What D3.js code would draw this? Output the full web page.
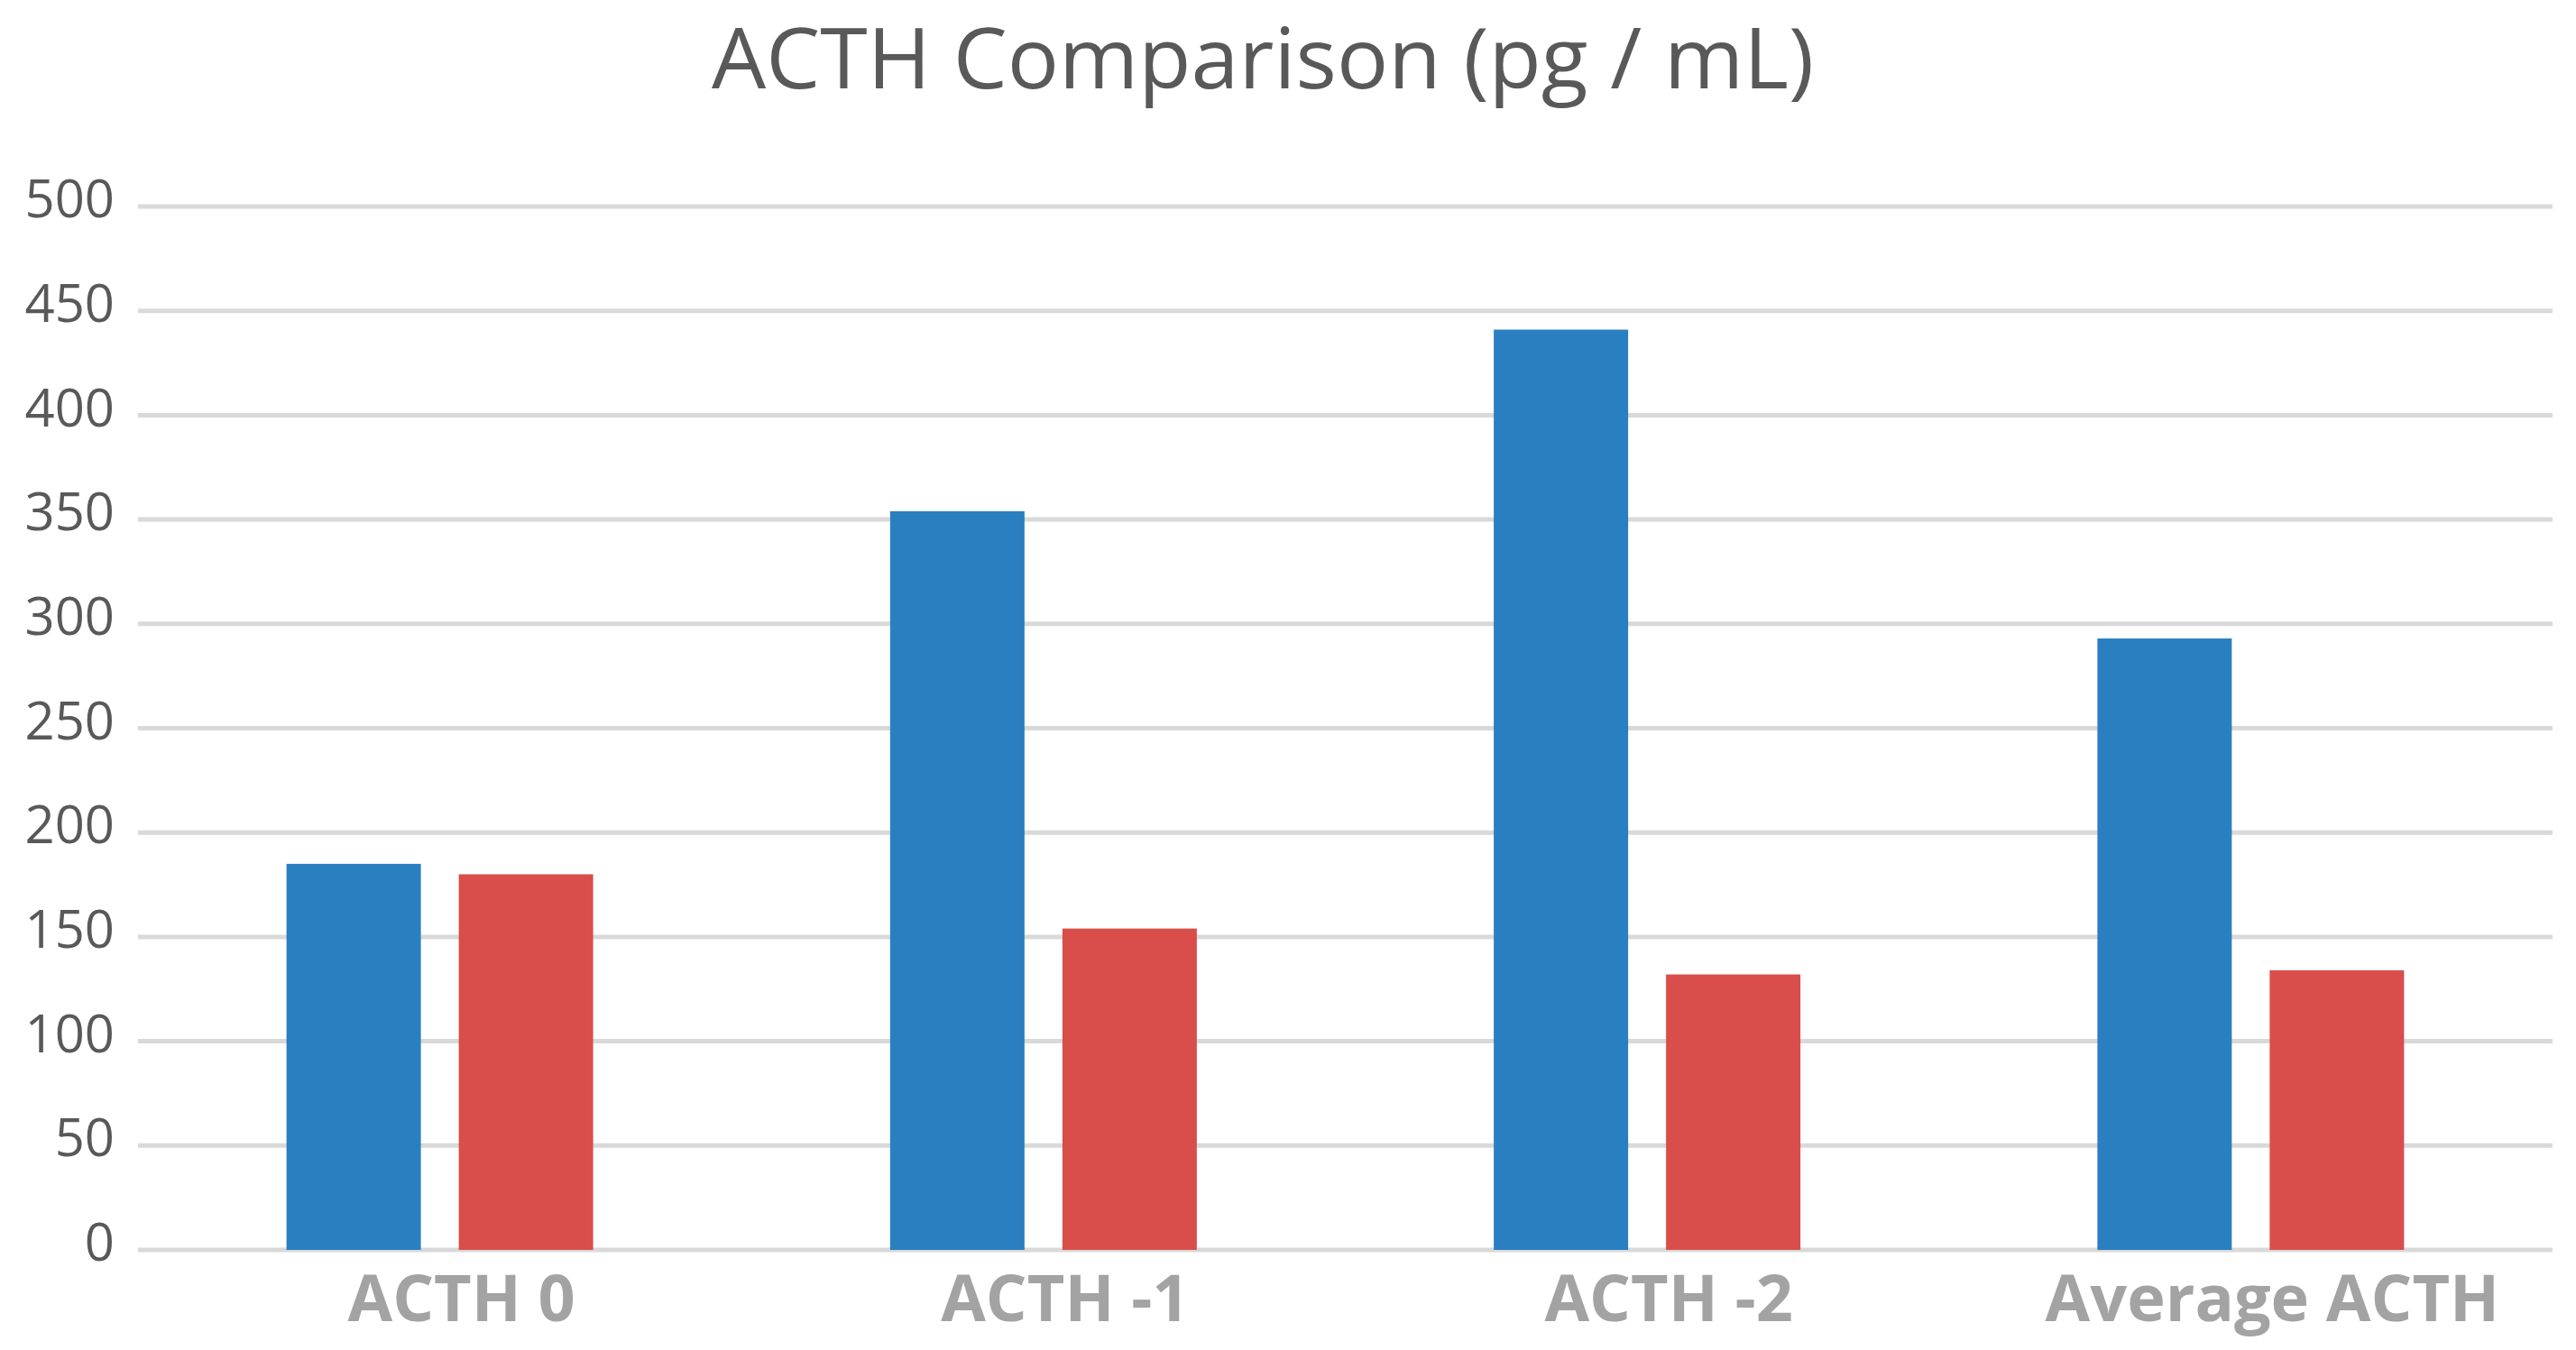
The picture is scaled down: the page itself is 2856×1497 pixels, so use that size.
<!DOCTYPE html>
<html>
<head>
<meta charset="utf-8">
<script src="https://cdn.jsdelivr.net/npm/d3@7"></script>
<style>
  html, body { margin: 0; padding: 0; background: #fff; }
  svg { display: block; }
</style>
</head>
<body>
<svg width="2856" height="1497"></svg>
<script>
// Data
const categories = ['ACTH 0', 'ACTH -1', 'ACTH -2', 'Average ACTH'];
const seriesNames = ['blue', 'red'];
const blueValues = [185, 354, 441, 293];
const redValues = [180, 154, 132, 134];
const yTicks = [0, 50, 100, 150, 200, 250, 300, 350, 400, 450, 500];

const colors = { blue: '#2a7fc1', red: '#d94e4a' };

const width = 2856;
const height = 1497;
const margin = { top: 229, right: 26, bottom: 111, left: 153 };
const innerWidth = width - margin.left - margin.right;
const innerHeight = height - margin.top - margin.bottom;

const svg = d3.select('svg');

// Title
svg.append('text')
    .attr('x', 1400)
    .attr('y', 98)
    .attr('text-anchor', 'middle')
    .attr('font-family', 'Open Sans, sans-serif')
    .attr('font-size', 94)
    .attr('fill', '#595959')
    .attr('textLength', 1222)
    .attr('lengthAdjust', 'spacingAndGlyphs')
    .text('ACTH Comparison (pg / mL)');

const g = svg.append('g')
    .attr('transform', `translate(${margin.left},${margin.top})`);

// Scales
const x0 = d3.scaleBand().domain(categories).range([0, innerWidth]).padding(0);
const x1 = d3.scaleBand().domain(seriesNames)
    .range([x0.bandwidth() / 2 - 170, x0.bandwidth() / 2 + 170])
    .paddingInner(0.22);
const y = d3.scaleLinear().domain([0, 500]).range([innerHeight, 0]);

// Gridlines
g.append('g')
    .selectAll('line')
    .data(yTicks)
    .join('line')
    .attr('x1', 0)
    .attr('x2', innerWidth)
    .attr('y1', d => y(d))
    .attr('y2', d => y(d))
    .attr('stroke', '#d9d9d9')
    .attr('stroke-width', 5);

// Y axis labels
const yAxis = d3.axisLeft(y).tickValues(yTicks).tickSize(0).tickPadding(26);
g.append('g')
    .call(yAxis)
    .call(a => a.select('.domain').remove())
    .call(a => a.selectAll('text')
        .attr('font-family', 'Open Sans, sans-serif')
        .attr('font-size', 58)
        .attr('fill', '#595959')
        .attr('dy', '0.2em'));

// Bars
const rows = categories.map((c, i) => ({ cat: c, blue: blueValues[i], red: redValues[i] }));

g.append('g')
    .selectAll('g')
    .data(rows)
    .join('g')
    .attr('transform', d => `translate(${x0(d.cat)},0)`)
    .selectAll('rect')
    .data(d => seriesNames.map(s => ({ s, v: d[s] })))
    .join('rect')
    .attr('x', d => x1(d.s))
    .attr('width', x1.bandwidth())
    .attr('y', d => y(d.v))
    .attr('height', d => innerHeight - y(d.v))
    .attr('fill', d => colors[d.s]);

// X axis labels
const xAxis = d3.axisBottom(x0).tickSize(0).tickPadding(26);
g.append('g')
    .attr('transform', `translate(24,${innerHeight})`)
    .call(xAxis)
    .call(a => a.select('.domain').remove())
    .call(a => a.selectAll('text')
        .attr('font-family', 'Open Sans, sans-serif')
        .attr('font-weight', 'bold')
        .attr('font-size', 72)
        .attr('fill', '#a3a3a3')
        .attr('dy', '0.74em'));
</script>
</body>
</html>
